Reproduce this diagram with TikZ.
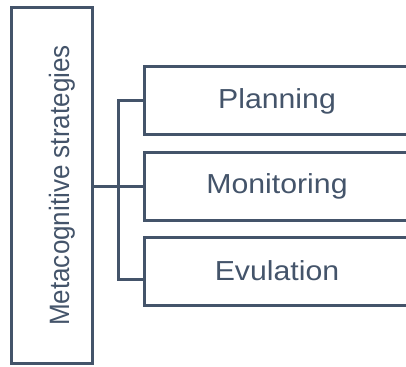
\documentclass[tikz,border=0pt]{standalone}
\usepackage{fontspec}
\setmainfont{Liberation Sans}
\newfontfamily\widefont[FakeStretch=1.1]{Liberation Sans}
\newfontfamily\tallfont[FakeStretch=0.93]{Liberation Sans}
\definecolor{slate}{HTML}{44546A}

\begin{document}
\begin{tikzpicture}[x=1pt, y=-1pt,
    box/.style={draw=slate, line width=3pt, rectangle, inner sep=0pt},
    item/.style={box, minimum width=266pt, minimum height=68pt, text=slate,
      font=\widefont\fontsize{27.5}{33}\selectfont},
    link/.style={draw=slate, line width=3pt}]
  \useasboundingbox (0,0) rectangle (406,366);
  \clip (0,0) rectangle (406,366);

  % Main box
  \node[box, minimum width=81pt, minimum height=355pt] (meta) at (51.5,185.5) {};
  \node[rotate=90, text=slate, inner sep=0pt,
    font=\tallfont\fontsize{28}{33}\selectfont] (metatext) at (62,185.5) {Metacognitive strategies};

  % Sub boxes
  \node[item] (plan) at (277,101) {Planning};
  \node[item] (moni) at (277,186.5) {Monitoring};
  \node[item] (evul) at (277,271) {Evulation};

  % Connectors
  \coordinate (fork) at (118,186.5);
  \coordinate (evulin) at ([yshift=-8pt]evul.west);
  \draw[link] (meta.east |- moni.west) -- (moni.west);
  \draw[link] (plan.west) -- (plan.west -| fork) -- (evulin -| fork) -- (evulin);
\end{tikzpicture}
\end{document}
